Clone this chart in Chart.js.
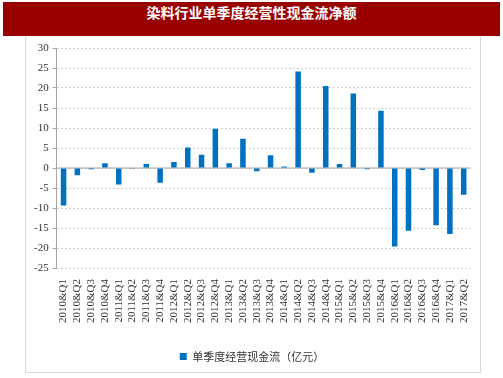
<!DOCTYPE html>
<html>
<head>
<meta charset="utf-8">
<script src="https://cdn.jsdelivr.net/npm/chart.js@4"></script>
<style>
  body { margin: 0; background: #fff; }
  #title {
    position: absolute; left: 3px; top: 2px; width: 497px; height: 34px;
    background: #990000; color: #fff; text-align: center; line-height: 34px;
    font: bold 14px "Noto Sans CJK SC", sans-serif;
  }
  #box {
    position: absolute; left: 25px; top: 36px; width: 454px; height: 336px;
    border: 1px solid #d9d9d9; border-top: none;
  }
</style>
</head>
<body>
<div id="title">染料行业单季度经营性现金流净额</div>
<div id="box"><canvas id="myChart"></canvas></div>
<script>
const quarters = [
    '2010&Q1', '2010&Q2', '2010&Q3', '2010&Q4',
    '2011&Q1', '2011&Q2', '2011&Q3', '2011&Q4',
    '2012&Q1', '2012&Q2', '2012&Q3', '2012&Q4',
    '2013&Q1', '2013&Q2', '2013&Q3', '2013&Q4',
    '2014&Q1', '2014&Q2', '2014&Q3', '2014&Q4',
    '2015&Q1', '2015&Q2', '2015&Q3', '2015&Q4',
    '2016&Q1', '2016&Q2', '2016&Q3', '2016&Q4',
    '2017&Q1', '2017&Q2'
];
const cashFlow = [
    -9.4, -1.8, -0.3, 1.2,
    -4.1, -0.2, 1.0, -3.7,
    1.5, 5.1, 3.3, 9.8,
    1.2, 7.3, -0.8, 3.2,
    0.4, 24.1, -1.2, 20.5,
    1.0, 18.6, -0.3, 14.3,
    -19.6, -15.7, -0.5, -14.3,
    -16.5, -6.7
];
const yTicks = [-25, -20, -15, -10, -5, 0, 5, 10, 15, 20, 25, 30];

// solid axis line at zero
const zeroLine = {
    id: 'zeroLine',
    beforeDatasetsDraw(chart) {
        const ctx = chart.ctx;
        const y = chart.scales.y.getPixelForValue(0);
        ctx.save();
        ctx.strokeStyle = '#a6a6a6';
        ctx.lineWidth = 1;
        ctx.beginPath();
        ctx.moveTo(chart.chartArea.left, y);
        ctx.lineTo(chart.chartArea.right, y);
        ctx.stroke();
        ctx.restore();
    }
};

const data = {
    labels: quarters,
    datasets: [{
        label: '单季度经营现金流（亿元）',
        data: cashFlow,
        backgroundColor: '#0070C0',
        borderColor: '#0070C0',
        categoryPercentage: 0.8,
        barPercentage: 0.5
    }]
};

const config = {
    type: 'bar',
    data: data,
    options: {
        responsive: true,
        maintainAspectRatio: false,
        animation: false,
        layout: { padding: { top: 12, right: 6, left: 4, bottom: 0 } },
        scales: {
            x: {
                grid: { display: false },
                border: { display: false },
                // leave room between the labels and the legend
                afterFit: (scale) => { scale.height += 15; },
                ticks: {
                    maxRotation: 90, minRotation: 90, autoSkip: false,
                    color: '#333',
                    font: { family: 'Liberation Serif', size: 11 }
                }
            },
            y: {
                min: -25, max: 30,
                afterBuildTicks: (axis) => { axis.ticks = yTicks.map(v => ({ value: v })); },
                grid: {
                    color: '#cfcfcf',
                    tickColor: '#a6a6a6',
                    tickLength: 4,
                    tickBorderDash: []
                },
                border: { color: '#a6a6a6', dash: [2, 2] },
                ticks: {
                    color: '#333',
                    padding: 4,
                    font: { family: 'Liberation Serif', size: 11 }
                }
            }
        },
        plugins: {
            legend: {
                position: 'bottom',
                labels: {
                    boxWidth: 7, boxHeight: 7, padding: 10,
                    color: '#333',
                    font: { family: 'Noto Sans CJK SC', size: 11 }
                }
            },
            tooltip: { enabled: false }
        }
    },
    plugins: [zeroLine]
};

let myChart = new Chart(document.getElementById('myChart'), config);
</script>
</body>
</html>
